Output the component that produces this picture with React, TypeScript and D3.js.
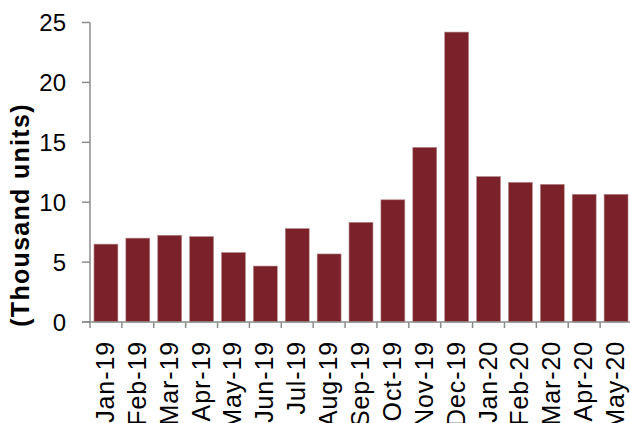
import React, { useEffect, useRef } from 'react';
import * as d3 from 'd3';

const months = ['Jan-19', 'Feb-19', 'Mar-19', 'Apr-19', 'May-19', 'Jun-19', 'Jul-19', 'Aug-19', 'Sep-19',
  'Oct-19', 'Nov-19', 'Dec-19', 'Jan-20', 'Feb-20', 'Mar-20', 'Apr-20', 'May-20'];
const units = [6.5, 7.0, 7.24, 7.13, 5.8, 4.67, 7.8, 5.68, 8.32, 10.2, 14.58, 24.2, 12.14, 11.66, 11.49, 10.66, 10.66];
const yTicks = [0, 5, 10, 15, 20, 25];

function App() {
  const ref = useRef<SVGSVGElement>(null);

  useEffect(() => {
    const width = 630;
    const height = 423;
    const svg = d3.select(ref.current);
    svg.selectAll('*').remove();

    const font = '"Liberation Sans", Arial, sans-serif';

    // band step about 31.9px, last band runs past the right edge
    const x = d3.scaleBand<string>()
      .domain(months)
      .range([90, 632])
      .paddingInner(0.25)
      .paddingOuter(0.125);

    const y = d3.scaleLinear()
      .domain([0, 25])
      .range([322, 22.5]);

    // bars
    svg.append('g')
      .selectAll('rect')
      .data(units)
      .enter()
      .append('rect')
      .attr('x', (d, i) => x(months[i])!)
      .attr('y', d => y(d))
      .attr('width', x.bandwidth())
      .attr('height', d => y(0) - y(d))
      .attr('fill', '#7b2129')
      .attr('stroke', '#b58a8e')
      .attr('stroke-width', 0.6);

    const axisColor = '#8c8c8c';

    // y axis
    const gy = svg.append('g');
    gy.append('line')
      .attr('x1', 90).attr('x2', 90)
      .attr('y1', y(25)).attr('y2', y(0))
      .attr('stroke', axisColor).attr('stroke-width', 1.5);
    gy.selectAll('line.tick')
      .data(yTicks)
      .enter()
      .append('line')
      .attr('class', 'tick')
      .attr('x1', 82).attr('x2', 90)
      .attr('y1', d => y(d)).attr('y2', d => y(d))
      .attr('stroke', axisColor).attr('stroke-width', 1.5);
    gy.selectAll('text')
      .data(yTicks)
      .enter()
      .append('text')
      .attr('x', 66)
      .attr('y', d => y(d))
      .attr('dy', '0.36em')
      .attr('text-anchor', 'end')
      .style('font-family', font)
      .style('font-size', '24px')
      .attr('fill', '#000')
      .text(d => d);

    // x axis
    const gx = svg.append('g');
    gx.append('line')
      .attr('x1', 82).attr('x2', width)
      .attr('y1', y(0)).attr('y2', y(0))
      .attr('stroke', axisColor).attr('stroke-width', 1.5);
    const bounds = months.map(m => x(m)! - x.step() * x.paddingInner() / 2);
    gx.selectAll('line.tick')
      .data(bounds)
      .enter()
      .append('line')
      .attr('class', 'tick')
      .attr('x1', d => d).attr('x2', d => d)
      .attr('y1', y(0)).attr('y2', y(0) + 6)
      .attr('stroke', axisColor).attr('stroke-width', 1.5);
    gx.selectAll('text')
      .data(months)
      .enter()
      .append('text')
      .attr('transform', d => `translate(${x(d)! + x.bandwidth() / 2 - 1}, 341) rotate(-90)`)
      .attr('dy', '0.36em')
      .attr('text-anchor', 'end')
      .style('font-family', font)
      .style('font-size', '25px')
      .style('letter-spacing', '0.9px')
      .attr('fill', '#000')
      .text(d => d);

    // y title
    svg.append('text')
      .attr('transform', 'translate(20, 215) rotate(-90)')
      .attr('dy', '0.36em')
      .attr('text-anchor', 'middle')
      .style('font-family', font)
      .style('font-size', '25px')
      .style('font-weight', 'bold')
      .style('letter-spacing', '1.3px')
      .attr('fill', '#000')
      .text('(Thousand units)');

    svg.attr('width', width).attr('height', height);
  }, []);

  return (
    <div style={{ position: 'absolute', left: 0, top: 0 }}>
      <svg ref={ref} style={{ display: 'block' }}></svg>
    </div>
  );
}

export default App;
